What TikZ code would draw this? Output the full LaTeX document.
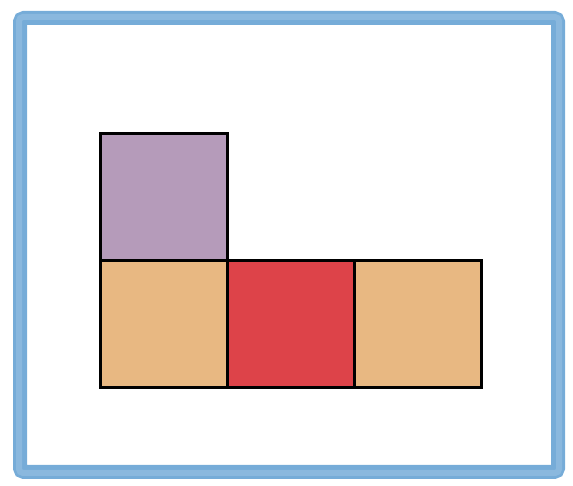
\documentclass[tikz,border=0pt]{standalone}
\usetikzlibrary{positioning}

\definecolor{framecol}{RGB}{118,172,216}
\definecolor{lilac}{RGB}{181,155,186}
\definecolor{sand}{RGB}{232,184,130}
\definecolor{brick}{RGB}{221,67,73}

\begin{document}
\begin{tikzpicture}[
    x=1pt, y=1pt,
    tile/.style={draw=black, line width=2.6pt, rectangle, minimum size=127pt, inner sep=0pt, outer sep=0pt},
    frame/.style={draw=framecol, line width=14pt, rounded corners=4pt},
    node distance=0pt,
]

\useasboundingbox (0,0) rectangle (573,486);

% crayon frame
\draw[frame] (20,468) rectangle (558,14);
\draw[draw=framecol!70!white, line width=6pt, opacity=0.5, rounded corners=4pt] (19,469) rectangle (559,13);

% bottom row
\node[tile, fill=sand] (sandleft) at (164,162) {};
\node[tile, fill=brick, right=of sandleft] (brickmid) {};
\node[tile, fill=sand, right=of brickmid] (sandright) {};

% top tile
\node[tile, fill=lilac, above=of sandleft] (lilactop) {};

\end{tikzpicture}
\end{document}
